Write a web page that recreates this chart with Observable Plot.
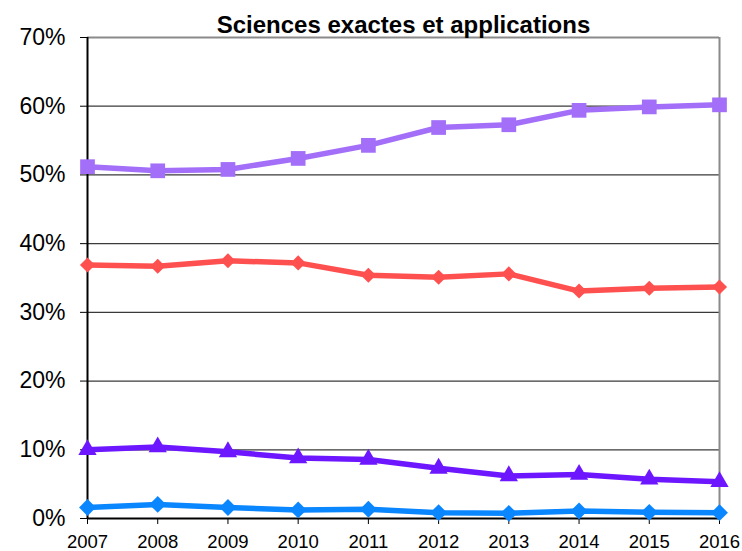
<!DOCTYPE html>
<html>
<head>
<meta charset="utf-8">
<script src="https://cdn.jsdelivr.net/npm/d3@7"></script>
<script src="https://cdn.jsdelivr.net/npm/@observablehq/plot@0.6"></script>
<style>
  html, body { margin: 0; padding: 0; background: white; }
</style>
</head>
<body>
<div id="chart"></div>
<script>
const title = "Sciences exactes et applications";
const years = [2007, 2008, 2009, 2010, 2011, 2012, 2013, 2014, 2015, 2016];
const yTicks = [0, 0.1, 0.2, 0.3, 0.4, 0.5, 0.6, 0.7];
const seriesSquare   = [51.2, 50.6, 50.8, 52.4, 54.3, 56.9, 57.3, 59.4, 59.9, 60.2];
const seriesRed      = [36.9, 36.7, 37.5, 37.2, 35.4, 35.1, 35.6, 33.1, 33.5, 33.7];
const seriesTriangle = [10.0, 10.4, 9.7, 8.8, 8.6, 7.3, 6.2, 6.4, 5.7, 5.35];
const seriesDiamond  = [1.6, 2.05, 1.6, 1.25, 1.35, 0.85, 0.75, 1.1, 0.9, 0.85];

const seriesDefs = [
  {key: "carres", values: seriesSquare, color: "#a36ff9", symbol: "square", r: 8.3},
  {key: "rouge", values: seriesRed, color: "#ff5050", symbol: "diamond2", r: 6.8},
  {key: "triangles", values: seriesTriangle, color: "#6c17ff", symbol: "triangle", r: 6.8},
  {key: "losanges", values: seriesDiamond, color: "#0a86ff", symbol: "diamond2", r: 7.6}
];

const lineMarks = [];
const dotMarks = [];
for (const s of seriesDefs) {
  const data = years.map((yr, i) => ({year: yr, value: s.values[i] / 100}));
  lineMarks.push(Plot.line(data, {x: "year", y: "value", stroke: s.color, strokeWidth: 5.5, curve: "linear"}));
  dotMarks.push(Plot.dot(data, {x: "year", y: "value", fill: s.color, symbol: s.symbol, r: s.r, stroke: "none"}));
}

const chart = Plot.plot({
  width: 742,
  height: 551,
  marginLeft: 87,
  marginRight: 23,
  marginTop: 37,
  marginBottom: 33,
  style: {fontFamily: "'Liberation Sans', Arial, Helvetica, sans-serif", background: "white", color: "black"},
  x: {type: "linear", domain: [2007, 2016]},
  y: {domain: [0, 0.7]},
  marks: [
    Plot.gridY(yTicks, {stroke: "#3a3a3a", strokeOpacity: 1, strokeWidth: 1.2}),
    Plot.ruleY([0.7], {stroke: "#8a8a8a", strokeWidth: 2}),
    Plot.ruleX([2016], {stroke: "#8a8a8a", strokeWidth: 2}),
    Plot.axisY({ticks: yTicks, tickFormat: d => `${Math.round(d * 100)}%`, tickSize: 7, tickPadding: 15, fontSize: 23, stroke: "black", fill: "black", label: null}),
    Plot.axisX({ticks: years, tickFormat: d => String(d), tickSize: 6, tickPadding: 10, fontSize: 18.5, stroke: "black", fill: "black", label: null}),
    Plot.ruleX([2007], {stroke: "black", strokeWidth: 2}),
    Plot.ruleY([0], {stroke: "black", strokeWidth: 2}),
    ...lineMarks,
    ...dotMarks,
    Plot.text([title], {frameAnchor: "top", dy: -22, fontSize: 24, fontWeight: "bold", fill: "black", text: d => d})
  ]
});
document.getElementById("chart").appendChild(chart);
</script>
</body>
</html>
